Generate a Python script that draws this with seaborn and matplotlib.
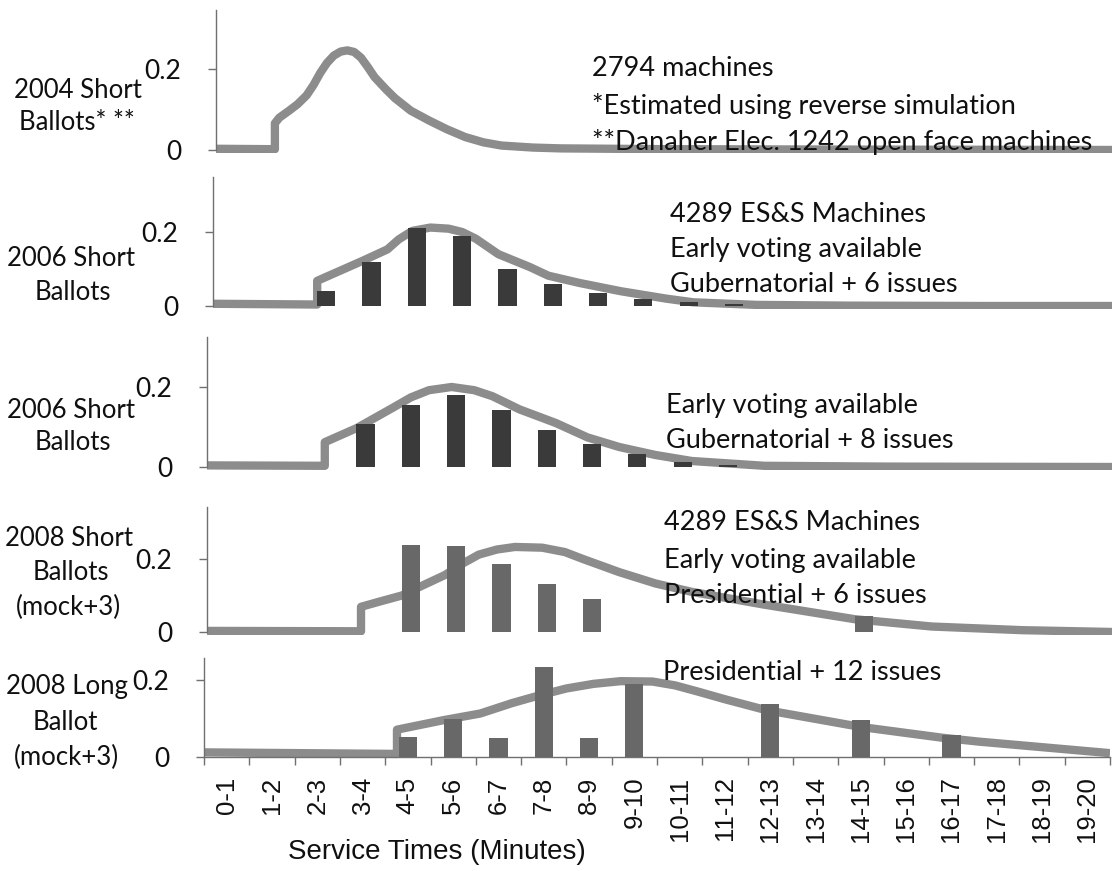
import numpy as np
import pandas as pd
import matplotlib
matplotlib.use("Agg")
import matplotlib.pyplot as plt
import seaborn as sns

# ---------------- data ----------------
categories = ["0-1", "1-2", "2-3", "3-4", "4-5", "5-6", "6-7", "7-8", "8-9", "9-10",
              "10-11", "11-12", "12-13", "13-14", "14-15", "15-16", "16-17", "17-18",
              "18-19", "19-20"]

# observed histogram bars (fraction of voters per service-time bin)
bars_2006_6 = [0, 0, 0.040, 0.120, 0.210, 0.190, 0.100, 0.060, 0.035, 0.018,
               0.010, 0.005, 0, 0, 0, 0, 0, 0, 0, 0]
bars_2006_8 = [0, 0, 0, 0.108, 0.154, 0.179, 0.142, 0.092, 0.058, 0.033,
               0.012, 0.005, 0, 0, 0, 0, 0, 0, 0, 0]
bars_2008_short = [0, 0, 0, 0, 0.238, 0.236, 0.186, 0.131, 0.090, 0,
                   0, 0, 0, 0, 0.045, 0, 0, 0, 0, 0]
bars_2008_long = [0, 0, 0, 0, 0.052, 0.098, 0.050, 0.235, 0.049, 0.190,
                  0, 0, 0.138, 0, 0.095, 0, 0.056, 0, 0, 0]

# fitted service-time curves (minutes, density)
t_2004 = [0, 1.3, 1.3, 1.4, 1.6, 1.8, 2.0, 2.15, 2.3, 2.45, 2.6, 2.75, 2.9, 3.05,
          3.2, 3.35, 3.5, 3.75, 3.95, 4.3, 4.7, 5.1, 5.5, 5.9, 6.3, 7.0, 7.6,
          10, 14, 20]
y_2004 = [0.003, 0.002, 0.066, 0.080, 0.096, 0.113, 0.135, 0.160, 0.190, 0.215,
          0.233, 0.243, 0.246, 0.242, 0.228, 0.205, 0.180, 0.150, 0.128, 0.097,
          0.073, 0.051, 0.032, 0.019, 0.011, 0.006, 0.004, 0.002, 0.001, 0.000]

t_2006_6 = [0, 2.3, 2.3, 2.8, 3.3, 3.85, 4.1, 4.4, 4.8, 5.2, 5.5, 5.8, 6.3, 7.0,
            7.4, 8.1, 9.0, 10.0, 10.6, 12.0, 14.0, 17.0, 20.0]
y_2006_6 = [0.006, 0.004, 0.068, 0.095, 0.122, 0.153, 0.180, 0.203, 0.212, 0.209,
            0.200, 0.182, 0.140, 0.105, 0.082, 0.062, 0.040, 0.020, 0.010, 0.003,
            0.001, 0.000, 0.000]

t_2006_8 = [0, 2.6, 2.6, 3.3, 4.1, 4.5, 4.9, 5.4, 5.9, 6.3, 6.9, 7.7, 8.4, 9.1,
            9.9, 10.7, 12.3, 15, 20]
y_2006_8 = [0.004, 0.003, 0.062, 0.097, 0.148, 0.174, 0.192, 0.200, 0.192, 0.177,
            0.144, 0.110, 0.074, 0.050, 0.030, 0.015, 0.003, 0.001, 0.000]

t_2008_short = [0, 3.4, 3.4, 3.8, 4.3, 4.7, 5.25, 5.65, 6.0, 6.4, 6.8, 7.4, 7.9,
                8.3, 9.1, 9.9, 10.7, 12.3, 14.3, 16.0, 18.0, 20.0]
y_2008_short = [0.003, 0.002, 0.069, 0.083, 0.100, 0.124, 0.156, 0.188, 0.212,
                0.226, 0.233, 0.231, 0.219, 0.200, 0.164, 0.133, 0.110, 0.075,
                0.035, 0.015, 0.005, 0.000]

t_2008_long = [0, 4.26, 4.26, 5.3, 6.1, 6.8, 7.4, 8.0, 8.6, 9.2, 9.9, 10.4, 10.9,
               11.5, 12.4, 14.5, 16.3, 17.1, 20]
y_2008_long = [0.012, 0.008, 0.071, 0.096, 0.113, 0.140, 0.160, 0.178, 0.190,
               0.197, 0.196, 0.186, 0.170, 0.150, 0.122, 0.078, 0.050, 0.040, 0.010]

row_labels = [["2004 Short", "Ballots* **"],
              ["2006 Short", "Ballots"],
              ["2006 Short", "Ballots"],
              ["2008 Short", "Ballots", "(mock+3)"],
              ["2008 Long", "Ballot", "(mock+3)"]]
notes = [["2794 machines", "*Estimated using reverse simulation",
          "**Danaher Elec. 1242 open face machines"],
         ["4289 ES&S Machines", "Early voting available", "Gubernatorial + 6 issues"],
         ["Early voting available", "Gubernatorial + 8 issues"],
         ["4289 ES&S Machines", "Early voting available", "Presidential + 6 issues"],
         ["Presidential + 12 issues"]]
y_ticks = [0, 0.2]
y_ticklabels = ["0", "0.2"]
x_title = "Service Times (Minutes)"

# ---------------- style ----------------
sns.set_theme(style="white")
plt.rcParams["font.family"] = ["Lato", "DejaVu Sans"]

W, H = 1112, 871
fig = plt.figure(figsize=(W / 100, H / 100), dpi=100)

LINE_C = "#8c8c8c"
BAR_DARK = "#3a3a3a"
BAR_MID = "#686868"
SPINE_C = "#707070"
TXT_C = "#101010"

# layout in pixels: (spine x, top y, zero y, pixels per unit)
layout = [(216, 10, 150, 405),
          (213, 177, 306, 370),
          (207, 337, 467, 400),
          (207, 507, 632, 365),
          (204, 658, 757, 385)]
panel_width = 906
ybot = -0.008

curves = [(t_2004, y_2004), (t_2006_6, y_2006_6), (t_2006_8, y_2006_8),
          (t_2008_short, y_2008_short), (t_2008_long, y_2008_long)]
bars = [None, (bars_2006_6, BAR_DARK), (bars_2006_8, BAR_DARK),
        (bars_2008_short, BAR_MID), (bars_2008_long, BAR_MID)]

label_pos = [[(78, 91), (77, 123)],
             [(71, 258), (73, 293)],
             [(71, 410), (73, 442)],
             [(69, 539), (71, 573), (68, 607)],
             [(67, 686), (65, 722), (66, 757)]]
note_pos = [(592, [68, 106, 142]),
            (670, [214, 250, 285]),
            (666, [405, 440]),
            (664, [523, 560, 595]),
            (663, [673])]

for i, (sx, top, zero, unit) in enumerate(layout):
    bottom_px = zero - ybot * unit
    ymax = (zero - top) / unit
    ax = fig.add_axes([sx / W, 1 - bottom_px / H, panel_width / W, (bottom_px - top) / H])

    if bars[i] is not None:
        vals, col = bars[i]
        df = pd.DataFrame({"bin": categories, "frac": vals})
        sns.barplot(data=df, x="bin", y="frac", order=categories, color=col,
                    width=0.40, linewidth=0, saturation=1, ax=ax, zorder=3)
    tt, yy = curves[i]
    cdf = pd.DataFrame({"pos": np.asarray(tt, float) - 0.5, "dens": yy})
    sns.lineplot(data=cdf, x="pos", y="dens", sort=False, estimator=None,
                 color=LINE_C, linewidth=6.0, ax=ax, zorder=2,
                 solid_capstyle="butt", solid_joinstyle="round")

    ax.set_xlim(-0.5, 19.5)
    ax.set_ylim(ybot, ymax)
    ax.set_xlabel("")
    ax.set_ylabel("")
    ax.set_facecolor("none")
    for s in ["top", "right"]:
        ax.spines[s].set_visible(False)
    ax.spines["left"].set_color(SPINE_C)
    ax.spines["left"].set_linewidth(1.0)
    ax.spines["left"].set_bounds(0, ymax)
    ax.set_yticks(y_ticks)
    ax.set_yticklabels(y_ticklabels)
    ax.tick_params(axis="y", which="major", left=True, direction="out", length=6,
                   width=1, color=SPINE_C, pad=19, labelsize=19, labelcolor=TXT_C)

    if i < 4:
        ax.spines["bottom"].set_visible(False)
        ax.set_xticks([])
    else:
        ax.spines["bottom"].set_color(SPINE_C)
        ax.spines["bottom"].set_linewidth(1.0)
        ax.spines["bottom"].set_position(("data", 0))
        ax.set_xticks(range(len(categories)))
        ax.set_xticklabels(categories, rotation=90, fontfamily="Liberation Sans",
                           fontsize=18.5, color=TXT_C)
        ax.set_xticks(np.arange(len(categories) + 1) - 0.5, minor=True)
        ax.tick_params(axis="x", which="major", bottom=True, length=0, pad=14)
        ax.tick_params(axis="x", which="minor", bottom=True, direction="out",
                       length=6, width=1, color=SPINE_C)

    for txt, (cx, cy) in zip(row_labels[i], label_pos[i]):
        fig.text(cx / W, 1 - cy / H, txt, ha="center", va="center",
                 fontsize=18.5, color=TXT_C)
    nx, nys = note_pos[i]
    for txt, ny in zip(notes[i], nys):
        fig.text(nx / W, 1 - ny / H, txt, ha="left", va="center",
                 fontsize=19.5, color=TXT_C)

fig.text(437 / W, 1 - 852 / H, x_title, ha="center", va="center",
         fontfamily="Liberation Sans", fontsize=20, color=TXT_C)

fig.savefig("out.png", dpi=100, facecolor="white")
